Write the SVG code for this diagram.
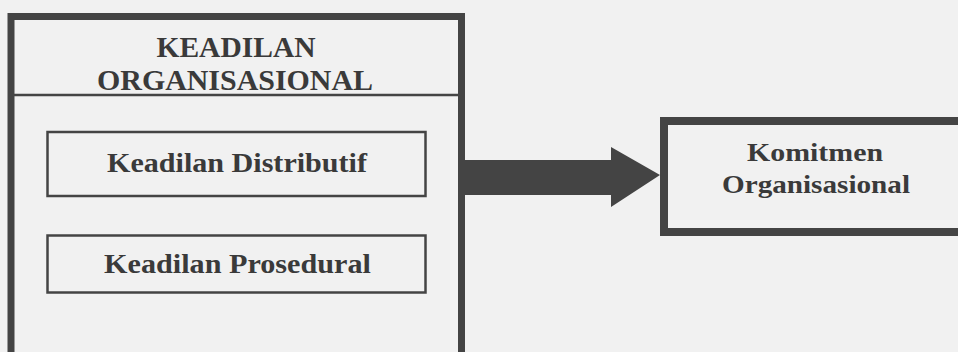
<svg xmlns="http://www.w3.org/2000/svg" width="958" height="352" viewBox="0 0 958 352">
<style>
.bg{fill:#f1f1f1}
.box{fill:none;stroke:#444444}
.t{font-family:"Liberation Serif","Times New Roman",serif;font-weight:bold;fill:#3a3a3a;text-anchor:middle}
</style>
<rect class="bg" x="0" y="0" width="958" height="352"/>
<g id="keadilan-organisasional">
<rect class="box" x="11" y="16.5" width="450.5" height="340" stroke-width="7"/>
<line x1="11" y1="95" x2="461" y2="95" stroke="#444444" stroke-width="2.5"/>
<text class="t" x="236" y="57" font-size="29" textLength="159" lengthAdjust="spacingAndGlyphs">KEADILAN</text>
<text class="t" x="235" y="90" font-size="29" textLength="276" lengthAdjust="spacingAndGlyphs">ORGANISASIONAL</text>
</g>
<g id="keadilan-distributif">
<rect class="box" x="47.5" y="132" width="378" height="64" stroke-width="2.5"/>
<text class="t" x="237" y="172" font-size="28" textLength="260" lengthAdjust="spacingAndGlyphs">Keadilan Distributif</text>
</g>
<g id="keadilan-prosedural">
<rect class="box" x="47.5" y="235.5" width="378" height="57" stroke-width="2.5"/>
<text class="t" x="237.5" y="273" font-size="28" textLength="267" lengthAdjust="spacingAndGlyphs">Keadilan Prosedural</text>
</g>
<g id="komitmen-organisasional">
<rect class="box" x="664" y="121" width="320" height="111" stroke-width="8"/>
<text class="t" x="815" y="161" font-size="26" textLength="136" lengthAdjust="spacingAndGlyphs">Komitmen</text>
<text class="t" x="816" y="193" font-size="26" textLength="188" lengthAdjust="spacingAndGlyphs">Organisasional</text>
</g>
<g id="connectors">
<polygon points="465,160 611,160 611,147 660,175 611,207 611,195 465,195" fill="#444444"/>
</g>
</svg>
